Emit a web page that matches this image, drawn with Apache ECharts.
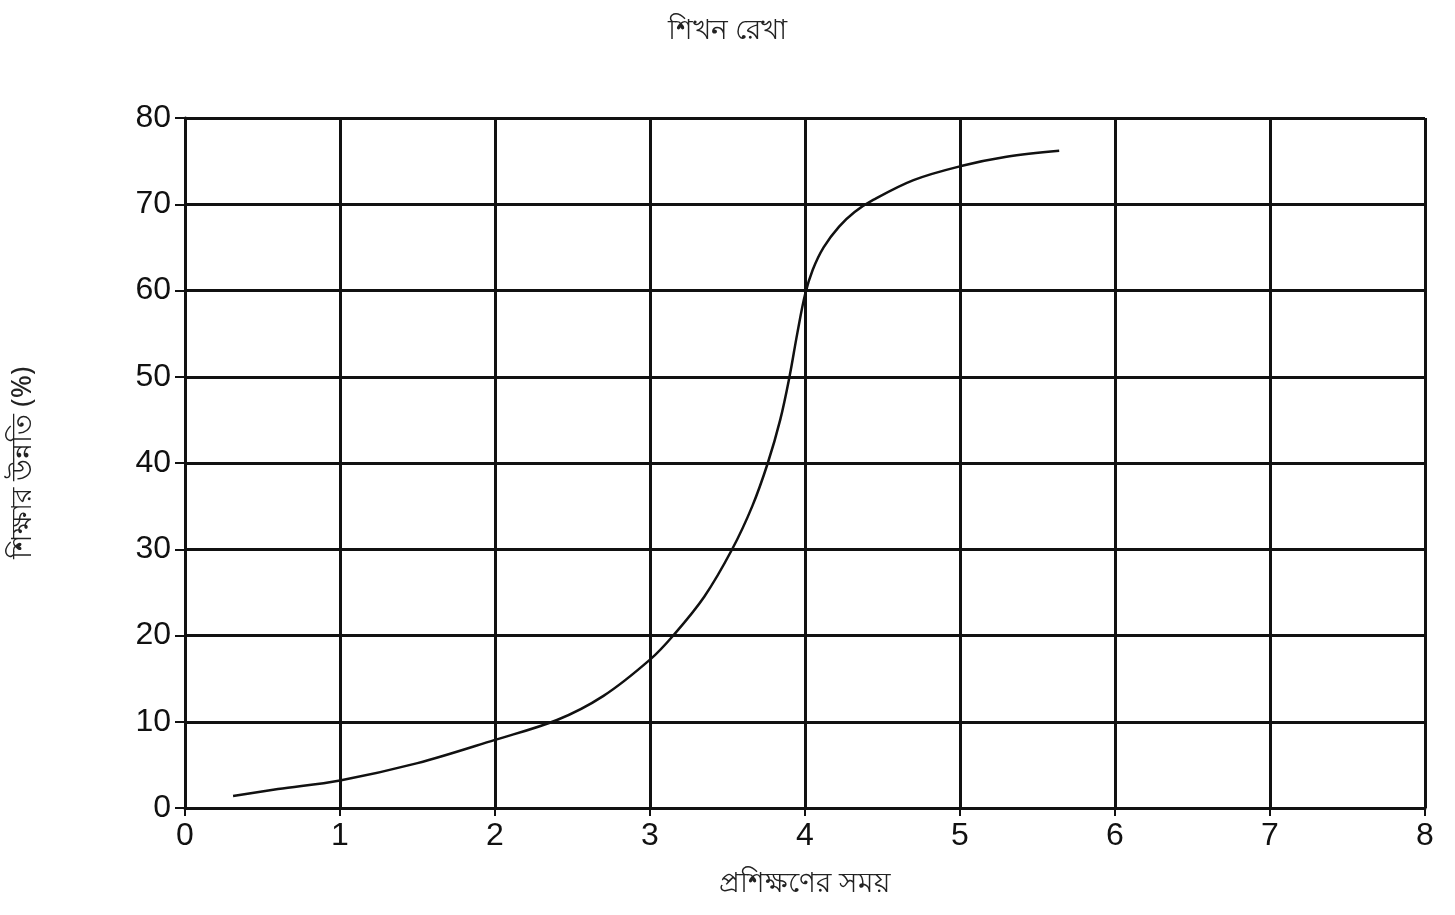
<!DOCTYPE html>
<html><head><meta charset="utf-8">
<script src="https://cdn.jsdelivr.net/npm/echarts@6/dist/echarts.min.js"></script>
<style>html,body{margin:0;padding:0;background:#fff}#c{width:1455px;height:915px}</style>
</head><body><div id="c"></div>
<script>
const titleText = 'শিখন রেখা';
const xName = 'প্রশিক্ষণের সময়';
const yName = 'শিক্ষার উন্নতি (%)';
const timeX = [0.31, 0.6, 1, 1.5, 2, 2.4, 2.7, 3, 3.15, 3.35, 3.53, 3.66, 3.76, 3.84, 3.9, 3.95, 4.0, 4.05, 4.12, 4.22, 4.32, 4.44, 4.7, 5, 5.3, 5.64];
const progressY = [1.4, 2.2, 3.2, 5.2, 7.9, 10.2, 13, 17.2, 20, 24.5, 30, 35, 40, 45, 50, 55, 59.5, 62.4, 65, 67.4, 69.1, 70.5, 72.8, 74.4, 75.5, 76.2];

const chart = echarts.init(document.getElementById('c'));
const font = 'Liberation Sans, Arial, sans-serif';
chart.setOption({
  backgroundColor: '#fff',
  title: { text: titleText, left: 'center', top: 12,
    textStyle: { fontFamily: 'Noto Sans, sans-serif', fontSize: 28, fontWeight: 'normal', color: '#222' } },
  grid: { left: 185, right: 30, top: 118, bottom: 107 },
  xAxis: {
    type: 'value', min: 0, max: 8, interval: 1,
    name: xName, nameLocation: 'middle', nameGap: 62,
    nameTextStyle: { fontFamily: 'Noto Sans, sans-serif', fontSize: 28, color: '#222' },
    axisLine: { show: true, lineStyle: { color: '#111', width: 3 } },
    axisTick: { show: true, length: 8, lineStyle: { color: '#111', width: 2 } },
    axisLabel: { fontFamily: font, fontSize: 32, color: '#111', margin: 12 },
    splitLine: { show: true, lineStyle: { color: '#111', width: 3 } }
  },
  yAxis: {
    type: 'value', min: 0, max: 80, interval: 10,
    name: yName, nameLocation: 'middle', nameGap: 148, nameRotate: 90,
    nameTextStyle: { fontFamily: 'Noto Sans, sans-serif', fontSize: 28, color: '#222' },
    axisLine: { show: true, lineStyle: { color: '#111', width: 3 } },
    axisTick: { show: true, length: 10, lineStyle: { color: '#111', width: 2 } },
    axisLabel: { fontFamily: font, fontSize: 32, color: '#111', margin: 14 },
    splitLine: { show: true, lineStyle: { color: '#111', width: 3 } }
  },
  series: [{
    type: 'line', smooth: 0.35, symbol: 'none',
    data: timeX.map((x, i) => [x, progressY[i]]),
    lineStyle: { color: '#111', width: 2.5 }
  }]
});
</script></body></html>
